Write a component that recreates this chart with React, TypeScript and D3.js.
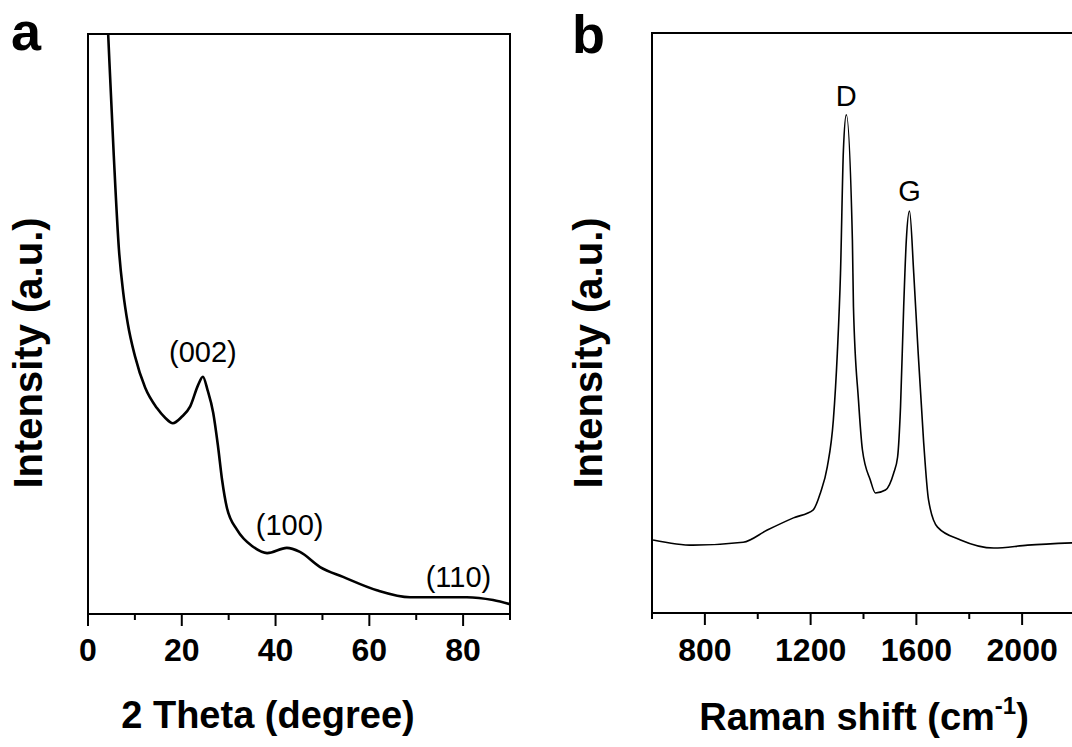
import React from "react";
import * as d3 from "d3";

// panel a: XRD pattern
const xrdAngle = [3.8, 4.3, 5.5, 6.6, 7.5, 8.5, 10.0, 12.2, 14.7, 16.5, 18.1, 20.0, 21.8, 23.5, 24.5, 25.5, 26.7, 27.7, 28.6, 29.6, 31.8, 35.2, 38.2, 42.4, 45.2, 49.5, 54.4, 61.6, 68.7, 75.7, 80.8, 86.4, 90];
const xrdIntensity = [109, 100, 79, 62.8, 55.5, 50.0, 44.5, 39.0, 35.5, 33.8, 32.9, 34.0, 35.8, 39.5, 40.9, 38.6, 34.7, 29.1, 23.1, 18.4, 14.5, 11.6, 10.5, 11.4, 10.7, 8.1, 6.4, 4.1, 2.9, 2.9, 2.9, 2.4, 1.7];
const xrdMajorTicks = [0, 20, 40, 60, 80];
const xrdMinorTicks = [10, 30, 50, 70, 90];
const xrdPeaks = [
  { label: "(002)", x: 24.5, y: 43.5 },
  { label: "(100)", x: 43.0, y: 13.6 },
  { label: "(110)", x: 79.0, y: 4.7 },
];

// panel b: Raman spectrum
const ramanShift = [604, 755, 945, 1036, 1135, 1210, 1237, 1263, 1286, 1301, 1313, 1324, 1335, 1358, 1362, 1381, 1396, 1426, 1445, 1483, 1514, 1529, 1540, 1552, 1562, 1574, 1590, 1604, 1627, 1646, 1680, 1767, 1893, 2021, 2192];
const ramanIntensity = [12.6, 11.7, 12.2, 14.3, 16.4, 17.8, 20.7, 25.2, 33.3, 44.8, 58.6, 79.8, 85.9, 64.3, 52.8, 36.7, 28.1, 22.9, 20.7, 21.2, 24.1, 26.9, 35.5, 52.8, 64.3, 69.3, 58.6, 47.1, 29.8, 19.5, 14.8, 12.6, 11.2, 11.7, 12.1];
const ramanMajorTicks = [800, 1200, 1600, 2000];
const ramanMinorTicks = [600, 1000, 1400, 1800, 2200];
const ramanPeaks = [
  { label: "D", x: 1335, y: 87.5 },
  { label: "G", x: 1574, y: 71 },
];

const FONT = "'Liberation Sans', Arial, Helvetica, sans-serif";

type Peak = { label: string; x: number; y: number };

function Panel(props: {
  letter: string;
  letterX: number;
  letterY: number;
  left: number;
  right: number;
  top: number;
  bottom: number;
  xDomain: [number, number];
  xs: number[];
  ys: number[];
  major: number[];
  minor: number[];
  peaks: Peak[];
  xTitle: React.ReactNode;
  yTitleX: number;
  lineWidth: number;
  id: string;
}) {
  const { left, right, top, bottom } = props;
  const x = d3.scaleLinear().domain(props.xDomain).range([left, right]);
  const y = d3.scaleLinear().domain([0, 100]).range([bottom, top]);
  const pts = props.xs.map((v, i) => [v, props.ys[i]] as [number, number]);
  const line = d3
    .line<[number, number]>()
    .x((d) => x(d[0]))
    .y((d) => y(d[1]))
    .curve(d3.curveMonotoneX);

  return (
    <g>
      <defs>
        <clipPath id={props.id}>
          <rect x={left} y={top} width={right - left} height={bottom - top} />
        </clipPath>
      </defs>
      <text x={props.letterX} y={props.letterY} fontSize={54} fontWeight="bold" fontFamily={FONT}>
        {props.letter}
      </text>
      <path d={line(pts) || ""} fill="none" stroke="#000" strokeWidth={props.lineWidth} clipPath={`url(#${props.id})`} />
      <rect x={left} y={top} width={right - left} height={bottom - top} fill="none" stroke="#000" strokeWidth={2} />
      {props.major.map((t) => (
        <g key={"M" + t}>
          <line x1={x(t)} x2={x(t)} y1={bottom} y2={bottom + 12} stroke="#000" strokeWidth={2} />
          <text x={x(t)} y={661} textAnchor="middle" fontSize={32} fontWeight="bold" fontFamily={FONT}>
            {t}
          </text>
        </g>
      ))}
      {props.minor.map((t) => (
        <line key={"m" + t} x1={x(t)} x2={x(t)} y1={bottom} y2={bottom + 6} stroke="#000" strokeWidth={2} />
      ))}
      {props.peaks.map((p) => (
        <text key={p.label} x={x(p.x)} y={y(p.y)} textAnchor="middle" fontSize={29} fontFamily={FONT}>
          {p.label}
        </text>
      ))}
      <text
        transform={`translate(${props.yTitleX},353) rotate(-90)`}
        textAnchor="middle"
        fontSize={40}
        fontWeight="bold"
        fontFamily={FONT}
      >
        Intensity (a.u.)
      </text>
      {props.xTitle}
    </g>
  );
}

export default function App() {
  return (
    <svg
      width={1072}
      height={747}
      style={{ position: "absolute", left: 0, top: 0, background: "#fff" }}
    >
      <rect width={1072} height={747} fill="#fff" />
      <Panel
        id="clipA"
        letter="a"
        letterX={11}
        letterY={50}
        left={88}
        right={510}
        top={34}
        bottom={614}
        xDomain={[0, 90]}
        xs={xrdAngle}
        ys={xrdIntensity}
        major={xrdMajorTicks}
        minor={xrdMinorTicks}
        peaks={xrdPeaks}
        yTitleX={42}
        lineWidth={2.6}
        xTitle={
          <text x={268} y={728} textAnchor="middle" fontSize={38} fontWeight="bold" fontFamily={FONT}>
            2 Theta (degree)
          </text>
        }
      />
      <Panel
        id="clipB"
        letter="b"
        letterX={572}
        letterY={53}
        left={652}
        right={1075}
        top={33}
        bottom={613}
        xDomain={[600, 2200]}
        xs={ramanShift}
        ys={ramanIntensity}
        major={ramanMajorTicks}
        minor={ramanMinorTicks}
        peaks={ramanPeaks}
        yTitleX={602}
        lineWidth={1.6}
        xTitle={
          <text x={864} y={730} textAnchor="middle" fontSize={38} fontWeight="bold" fontFamily={FONT}>
            Raman shift (cm
            <tspan fontSize={24} dy={-16}>-1</tspan>
            <tspan dy={16}>)</tspan>
          </text>
        }
      />
    </svg>
  );
}
